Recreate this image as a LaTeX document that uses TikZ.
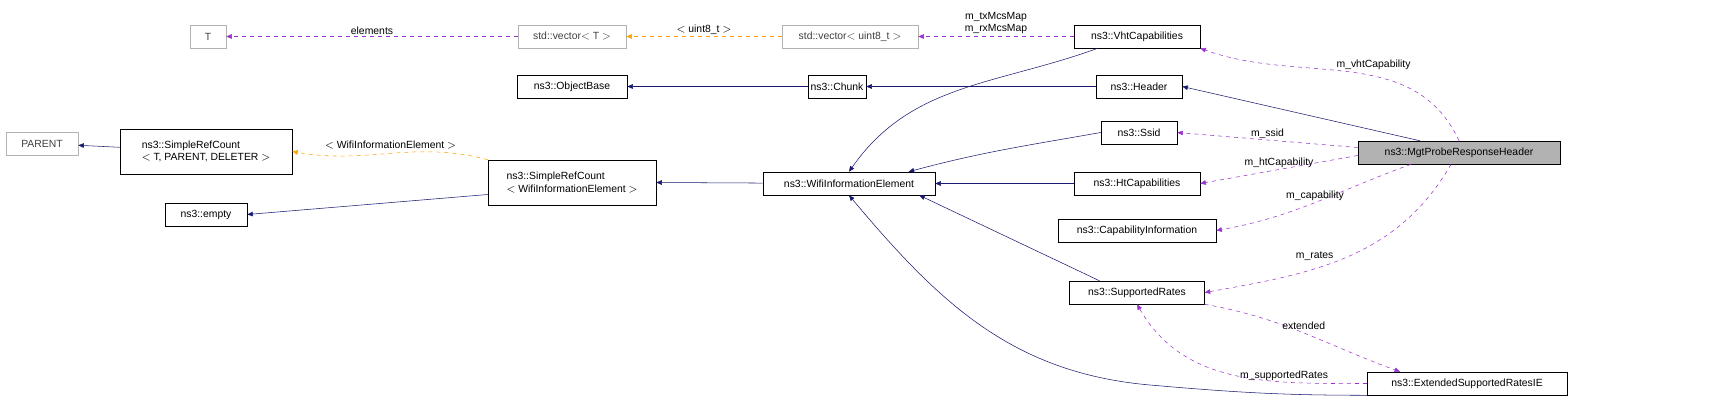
\documentclass[tikz,border=0pt]{standalone}
\usepackage{fontspec}
\setmainfont{Liberation Sans}
\usetikzlibrary{arrows.meta}
\definecolor{navy}{HTML}{191970}
\definecolor{orchid}{HTML}{9A32CD}
\definecolor{tmpl}{HTML}{FFA500}
\tikzset{
  box/.style={draw=black,inner sep=1pt,minimum height=17.25pt,font=\fontsize{7.8}{9.2}\selectfont,align=left},
  extbox/.style={box,draw=gray!60,text=black!75},
  curbox/.style={box,fill=gray!60},
  lbl/.style={font=\fontsize{7.8}{9.2}\selectfont,inner sep=0pt,align=center},
  inh/.style={draw=navy,-{Triangle[angle=45:4.5pt,fill=navy]}},
  use/.style={draw=orchid,dashed,-{Triangle[angle=45:4.5pt,fill=orchid]}},
  inst/.style={draw=tmpl,dashed,-{Triangle[angle=45:4.5pt,fill=tmpl]}}
}
\begin{document}
\begin{tikzpicture}[x=0.75pt,y=-0.75pt]
\useasboundingbox (0,0) rectangle (1712,407);
% classes
\node[extbox,minimum width=27pt] (t) at (208,36.5) {T};
\node[extbox,minimum width=81pt] (vect) at (572,36.5) {std::vector$<$ T $>$};
\node[extbox,minimum width=102pt] (vecu) at (850,36.5) {std::vector$<$ uint8\_t $>$};
\node[box,minimum width=94.5pt] (vht) at (1137,36.5) {ns3::VhtCapabilities};
\node[box,minimum width=82.5pt] (obj) at (572,86.5) {ns3::ObjectBase};
\node[box,minimum width=43.5pt] (chunk) at (837,86.5) {ns3::Chunk};
\node[box,minimum width=64.5pt] (hdr) at (1139,86.5) {ns3::Header};
\node[extbox,minimum width=54pt] (parent) at (42,143.5) {PARENT};
\node[box,minimum width=129pt,minimum height=33.75pt] (srcT) at (206,151.5) {ns3::SimpleRefCount\\$<$ T, PARENT, DELETER $>$};
\node[box,minimum width=57pt] (ssid) at (1139,132.5) {ns3::Ssid};
\node[curbox,minimum width=151.5pt] (mgt) at (1459,152.5) {ns3::MgtProbeResponseHeader};
\node[box,minimum width=126pt,minimum height=33.75pt] (srcW) at (572,182.5) {ns3::SimpleRefCount\\$<$ WifiInformationElement $>$};
\node[box,minimum width=129pt] (wie) at (849,183.5) {ns3::WifiInformationElement};
\node[box,minimum width=94.5pt] (ht) at (1137,183.5) {ns3::HtCapabilities};
\node[box,minimum width=61.5pt] (empty) at (206,214.5) {ns3::empty};
\node[box,minimum width=118.5pt] (cap) at (1137,230.5) {ns3::CapabilityInformation};
\node[box,minimum width=101pt] (rates) at (1137,292.5) {ns3::SupportedRates};
\node[box,minimum width=150pt] (ext) at (1467,383.5) {ns3::ExtendedSupportedRatesIE};
% inheritance
\draw[inh] (chunk) -- (obj);
\draw[inh] (hdr) -- (chunk);
\draw[inh] (mgt.north west) ++(62,0) coordinate (m1) (m1) -- (hdr.east);
\draw[inh] (srcT) -- (parent);
\draw[inh] (srcW.west) ++(0,12) coordinate (s1) (s1) -- (empty.east);
\draw[inh] (wie) -- (srcW.east);
\draw[inh] (vht.south west) ++(24,0) coordinate (v1) (v1) to[out=200,in=55] (wie.north);
\draw[inh] (ssid.west) to[out=190,in=15] ([xshift=-20]wie.north east);
\draw[inh] (ht) -- (wie);
\draw[inh] (rates.north west) ++(30,0) coordinate (r1) (r1) -- ([xshift=-12]wie.south east);
\draw[inh] (ext.south west) to[out=180,in=-5] (1150,385) to[out=175,in=-50] (wie.south);
% templates
\draw[inst] (vecu) -- node[lbl,above=1pt] (lu) {$<$ uint8\_t $>$} (vect);
\draw[inst] (srcW.north west) to[out=165,in=-10] node[lbl,above=3pt,pos=0.5] (lw) {$<$ WifiInformationElement $>$} (srcT.east);
% members
\draw[use] (vect) -- node[lbl,above=1pt] (le) {elements} (t);
\draw[use] (vht) -- node[lbl,above=2pt] (lm) {m\_txMcsMap\\m\_rxMcsMap} (vecu);
\draw[use] ([xshift=76]mgt.north west) to[out=115,in=-20] node[lbl,pos=0.55,above right] (lv) {m\_vhtCapability} (vht.south east);
\draw[use] (mgt.west) ++(0,-5) coordinate (m2) (m2) -- node[lbl,above=1pt] (ls) {m\_ssid} (ssid.east);
\draw[use] (mgt.west) ++(0,3) coordinate (m3) (m3) -- node[lbl,above=1pt] (lh) {m\_htCapability} (ht.east);
\draw[use] ([xshift=40]mgt.south west) to[out=-160,in=10] node[lbl,above=1pt] (lc) {m\_capability} (cap.east);
\draw[use] ([xshift=70]mgt.south west) to[out=-120,in=10] node[lbl,pos=0.55,above left=1pt] (lr) {m\_rates} (rates.east);
\draw[use] (rates.south east) to[out=-10,in=160] node[lbl,above=2pt] (lx) {extended} ([xshift=25]ext.north west);
\draw[use] (ext.west) to[out=180,in=-60] node[lbl,pos=0.3,above=1pt] (lsr) {m\_supportedRates} (rates.south);
\end{tikzpicture}
\end{document}
